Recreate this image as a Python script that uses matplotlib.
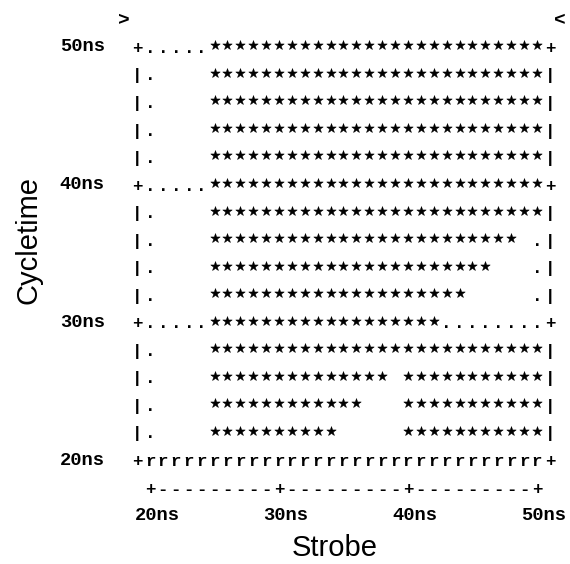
import matplotlib
matplotlib.use("Agg")
import matplotlib.pyplot as plt
from matplotlib.transforms import offset_copy

# ---- data ----
strobe_ns = [20, 21, 22, 23, 24, 25, 26, 27, 28, 29, 30, 31, 32, 33, 34, 35,
             36, 37, 38, 39, 40, 41, 42, 43, 44, 45, 46, 47, 48, 49, 50]
cycletime_ns = [50, 48, 46, 44, 42, 40, 38, 36, 34, 32, 30, 28, 26, 24, 22, 20]
# passing strobe ranges (inclusive) for each cycletime row
pass_ranges = {
    50: [(25, 50)], 48: [(25, 50)], 46: [(25, 50)], 44: [(25, 50)],
    42: [(25, 50)], 40: [(25, 50)], 38: [(25, 50)], 36: [(25, 48)],
    34: [(25, 46)], 32: [(25, 44)], 30: [(25, 42)], 28: [(25, 50)],
    26: [(25, 38), (40, 50)], 24: [(25, 36), (40, 50)],
    22: [(25, 34), (40, 50)], 20: [],
}
r_rows = [20]                      # rows printed with 'r'
grid_strobe = [20, 30, 40, 50]     # dotted vertical grid
grid_cycle = [30, 40, 50]          # dotted horizontal grid
x_ticks = [20, 30, 40, 50]
y_ticks = [20, 30, 40, 50]
x_ticklabels = ["20ns", "30ns", "40ns", "50ns"]
y_ticklabels = ["20ns", "30ns", "40ns", "50ns"]
spec_marks = {18.0: ">", 51.8: "<"}    # strobe position -> marker char (top line)

# ---- figure ----
fig = plt.figure(figsize=(5.70, 5.64), dpi=100)
ax = fig.add_axes([0, 0, 1, 1])
ax.set_xlim(8.37, 52.56)
ax.set_ylim(12.45, 53.41)
ax.axis("off")

mono = dict(family="Liberation Mono", weight="bold", color="black")
fs = 12.5
base = offset_copy(ax.transData, fig=fig, x=0, y=-4.3, units="points")

def ch(x, y, c, size=fs):
    ax.text(x, y, c, transform=base, ha="center", va="baseline",
            fontsize=size, **mono)

left, right = strobe_ns[0] - 1, strobe_ns[-1] + 1
star_x, star_y = [], []
for ct in cycletime_ns:
    # borders
    edge = "+" if ct in y_ticks else "|"
    ch(left, ct, edge)
    ch(right, ct, edge)
    for s in strobe_ns:
        if ct in r_rows:
            ch(s, ct, "r")
            continue
        passed = any(a <= s <= b for a, b in pass_ranges[ct])
        if passed:
            star_x.append(s)
            star_y.append(ct)
        elif s in grid_strobe or ct in grid_cycle:
            ch(s, ct, ".")

ax.scatter(star_x, star_y, marker="*", s=50, color="black", linewidths=0.4,
           edgecolors="black",
           transform=offset_copy(ax.transData, fig=fig, x=0, y=1.2, units="points"))

# bottom text axis
axis_ct = 18
for s in strobe_ns:
    ch(s, axis_ct, "+" if s in x_ticks else "-")

# tick labels
xl = offset_copy(ax.transData, fig=fig, x=5, y=0, units="points")
for s, lab in zip(x_ticks, x_ticklabels):
    ax.text(s, 16.0, lab, transform=xl, ha="center", va="center",
            fontsize=13.5, **mono)
for ct, lab in zip(y_ticks, y_ticklabels):
    ax.text(16.5, ct, lab, ha="right", va="center", fontsize=13.5, **mono)

# spec markers on the top line
for s, c in spec_marks.items():
    ch(s, 52, c, size=14)

# axis titles
ax.text(34.3, 13.6, "Strobe", ha="center", va="center", fontsize=21,
        family="Liberation Sans")
ax.text(10.55, 36.0, "Cycletime", ha="center", va="center", fontsize=21,
        rotation=90, family="Liberation Sans")

fig.savefig("out.png", dpi=100)
